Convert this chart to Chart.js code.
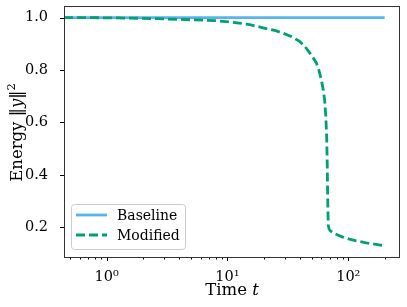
<!DOCTYPE html>
<html>
<head>
<meta charset="utf-8">
<script src="https://cdn.jsdelivr.net/npm/chart.js@4.4.1/dist/chart.umd.min.js"></script>
<style>
html, body { margin: 0; padding: 0; background: #fff; }
</style>
</head>
<body>
<canvas id="canvas" width="407" height="307"></canvas>
<script>
// axis limits (log x)
xMin = 0.443
xMax = 268
yMin = 0.087
yMax = 1.044

// Baseline energy stays at 1
baseT = [0.443, 200]
baseE = [1.0, 1.0]

// Modified energy
modT = [0.443, 1, 2, 4, 8, 12, 15.3, 20, 25, 28.6, 34, 39.6, 44, 47.9, 51, 54.4, 57, 59.8, 62, 63.7,
        65.2, 66.3, 67, 67.5, 68, 68.5, 69.5, 71, 74.6, 80, 90, 102, 120, 141, 170, 200]
modE = [1.0, 0.999, 0.997, 0.993, 0.988, 0.980, 0.973, 0.960, 0.950, 0.941, 0.927, 0.909, 0.888, 0.865, 0.848, 0.827, 0.800, 0.763, 0.725, 0.686,
        0.62, 0.54, 0.43, 0.32, 0.24, 0.205, 0.193, 0.187, 0.179, 0.173, 0.163, 0.155, 0.147, 0.141, 0.135, 0.130]

xMajor = [1, 10, 100]
xMinor = [0.5, 0.6, 0.7, 0.8, 0.9, 2, 3, 4, 5, 6, 7, 8, 9, 20, 30, 40, 50, 60, 70, 80, 90, 200]
xLabels = {1: '10\u2070', 10: '10\u00b9', 100: '10\u00b2'}
yTicks = [0.2, 0.4, 0.6, 0.8, 1.0]

const SERIF = "'DejaVu Serif', serif";

function toPoints(xs, ys) {
    return xs.map((v, i) => ({x: v, y: ys[i]}));
}

// frame, tick marks, axis titles and the legend box
const decor = {
    id: 'decor',
    afterDatasetsDraw(chart) {
        const ctx = chart.ctx;
        const a = chart.chartArea;
        const xs = chart.scales.x, ys = chart.scales.y;
        ctx.save();
        ctx.strokeStyle = '#000';
        ctx.lineWidth = 1;
        ctx.beginPath();
        xMajor.forEach(v => {
            const px = Math.round(xs.getPixelForValue(v)) + 0.5;
            ctx.moveTo(px, a.bottom); ctx.lineTo(px, a.bottom + 4);
        });
        xMinor.forEach(v => {
            const px = Math.round(xs.getPixelForValue(v)) + 0.5;
            ctx.moveTo(px, a.bottom); ctx.lineTo(px, a.bottom + 2.5);
        });
        yTicks.forEach(v => {
            const py = Math.round(ys.getPixelForValue(v)) + 0.5;
            ctx.moveTo(a.left - 4, py); ctx.lineTo(a.left, py);
        });
        ctx.stroke();

        ctx.strokeStyle = '#333';
        ctx.strokeRect(Math.round(a.left) + 0.5, Math.round(a.top) + 0.5,
                       Math.round(a.right - a.left) - 1, Math.round(a.bottom - a.top));

        // x title: Time t
        ctx.fillStyle = '#000';
        ctx.textBaseline = 'alphabetic';
        const fN = '16.5px ' + SERIF, fI = 'italic 16.5px ' + SERIF;
        ctx.font = fN; const w1 = ctx.measureText('Time ').width;
        ctx.font = fI; const w2 = ctx.measureText('t').width;
        let x0 = (a.left + a.right) / 2 - (w1 + w2) / 2;
        ctx.font = fN; ctx.fillText('Time ', x0, 295);
        ctx.font = fI; ctx.fillText('t', x0 + w1, 295);

        // y title: Energy ||y||^2
        const parts = [['Energy \u2016', fN, 0], ['y', fI, 0], ['\u2016', fN, 0], ['2', '11.5px ' + SERIF, -7]];
        let total = 0;
        parts.forEach(p => { ctx.font = p[1]; p.push(ctx.measureText(p[0]).width); total += p[3]; });
        ctx.translate(22, (a.top + a.bottom) / 2 + 1);
        ctx.rotate(-Math.PI / 2);
        let cx = -total / 2;
        parts.forEach(p => { ctx.font = p[1]; ctx.fillText(p[0], cx, p[2]); cx += p[3]; });
        ctx.setTransform(1, 0, 0, 1, 0, 0);

        // legend
        const bx = 71.5, by = 204.5, bw = 114, bh = 45, r = 3;
        ctx.beginPath();
        ctx.roundRect(bx, by, bw, bh, r);
        ctx.fillStyle = 'rgba(255,255,255,0.8)';
        ctx.fill();
        ctx.strokeStyle = '#cccccc';
        ctx.stroke();
        ctx.font = '14px ' + SERIF;
        ctx.textBaseline = 'middle';
        chart.data.datasets.forEach((ds, i) => {
            const ly = 215 + i * 20;
            ctx.strokeStyle = ds.borderColor;
            ctx.lineWidth = ds.borderWidth;
            ctx.setLineDash(ds.borderDash || []);
            ctx.beginPath();
            ctx.moveTo(76, ly); ctx.lineTo(107, ly);
            ctx.stroke();
            ctx.setLineDash([]);
            ctx.fillStyle = '#000';
            ctx.fillText(ds.label, 117, ly + 1);
        });
        ctx.restore();
    }
};

const ctx = document.getElementById('canvas').getContext('2d');
const myChart = new Chart(ctx, {
    type: 'line',
    data: {
        datasets: [{
            label: 'Baseline',
            data: toPoints(baseT, baseE),
            borderColor: '#56B4E9',
            borderWidth: 2.8,
            order: 2
        }, {
            label: 'Modified',
            data: toPoints(modT, modE),
            borderColor: '#009E73',
            borderWidth: 2.8,
            borderDash: [9, 4],
            order: 1
        }]
    },
    options: {
        responsive: false,
        animation: false,
        layout: { padding: { top: 6, right: 7, left: 0, bottom: 0 } },
        elements: { point: { radius: 0 }, line: { tension: 0 } },
        plugins: {
            legend: { display: false },
            tooltip: { enabled: false }
        },
        scales: {
            x: {
                type: 'logarithmic',
                min: xMin,
                max: xMax,
                grid: { display: false },
                border: { display: false },
                afterBuildTicks: function (s) {
                    s.ticks = xMajor.concat(xMinor).map(v => ({ value: v }));
                },
                ticks: {
                    autoSkip: false,
                    maxRotation: 0,
                    padding: 4,
                    color: '#000',
                    font: { family: SERIF, size: 14.5 },
                    callback: function (value) {
                        return xLabels[value] || '';
                    }
                },
                afterFit: function (s) {
                    s.height = 50;
                    s.paddingLeft = 0;
                    s.paddingRight = 0;
                }
            },
            y: {
                min: yMin,
                max: yMax,
                grid: { display: false },
                border: { display: false },
                afterBuildTicks: function (s) {
                    s.ticks = yTicks.map(v => ({ value: v }));
                },
                ticks: {
                    padding: 8,
                    color: '#000',
                    font: { family: SERIF, size: 14.5 },
                    callback: function (value) { return value.toFixed(1); }
                },
                afterFit: function (s) {
                    s.width = 64;
                    s.paddingTop = 0;
                    s.paddingBottom = 0;
                }
            }
        }
    },
    plugins: [decor]
});
</script>
</body>
</html>
